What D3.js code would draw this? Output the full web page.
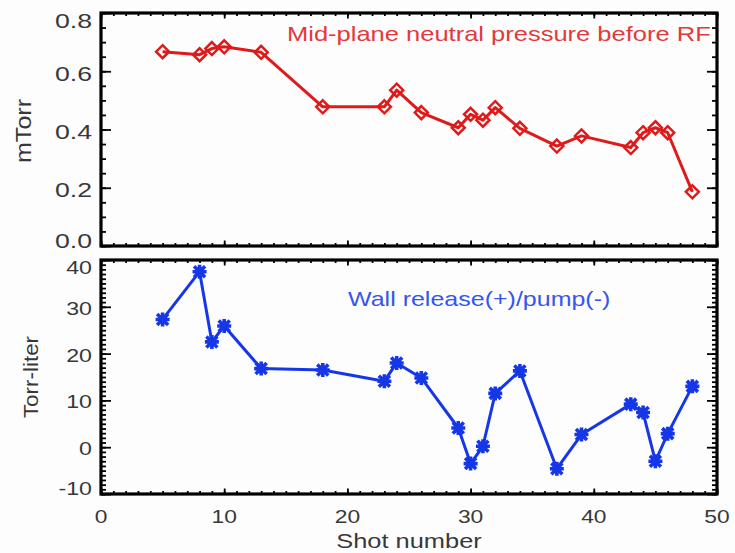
<!DOCTYPE html>
<html>
<head>
<meta charset="utf-8">
<script src="https://cdn.jsdelivr.net/npm/d3@7"></script>
<style>
  html, body { margin: 0; padding: 0; background: #fdfdfd; }
  svg { display: block; }
  text { font-family: "Liberation Sans", Arial, Helvetica, sans-serif; }
</style>
</head>
<body>
<svg id="chart" width="735" height="553"></svg>
<script>
// Shot numbers shared by both panels
const shots = [5, 8, 9, 10, 13, 18, 23, 24, 26, 29, 30, 31, 32, 34, 37, 39, 43, 44, 45, 46, 48];

// Mid-plane neutral pressure before RF (mTorr)
const pressure = [0.667, 0.657, 0.678, 0.684, 0.665, 0.478, 0.478, 0.535, 0.458, 0.406, 0.452,
                  0.432, 0.475, 0.404, 0.343, 0.378, 0.338, 0.389, 0.406, 0.389, 0.186];

// Wall release (+) / pump (-) (Torr-liter)
const wallGas = [27.3, 37.5, 22.5, 25.9, 16.8, 16.5, 14.1, 18.0, 14.8, 4.1, -3.5,
                 0.2, 11.5, 16.3, -4.6, 2.7, 9.2, 7.4, -3.0, 2.9, 13.0];

const xTicks = [0, 10, 20, 30, 40, 50];
const pTicks = [0.0, 0.2, 0.4, 0.6, 0.8];
const wTicks = [-10, 0, 10, 20, 30, 40];

const svg = d3.select("#chart");

const left = 101, right = 717;
const top1 = 13, bot1 = 246;
const top2 = 260, bot2 = 494;

const x = d3.scaleLinear().domain([0, 50]).range([left, right]);
const yP = d3.scaleLinear().domain([0, 0.8]).range([bot1, top1]);
const yW = d3.scaleLinear().domain([-10, 40]).range([bot2, top2]);

const red = "#df1a1a", redText = "#e23a3a";
const blue = "#1637e8", blueText = "#3556ee";

// Text stretched horizontally by sx around its anchor point
function label(g, str, px, py, opts) {
  const o = Object.assign({ size: 20, sx: 1.22, anchor: "middle", fill: "#383838", rotate: 0 }, opts);
  return g.append("text")
    .attr("transform", `translate(${px},${py}) rotate(${o.rotate}) scale(${o.sx},1)`)
    .attr("text-anchor", o.anchor)
    .attr("font-size", o.size)
    .attr("fill", o.fill)
    .text(str);
}

// Inward major/minor ticks on all four sides of a panel
function frameTicks(y, yTop, yBot, yMajor, yMinor, yMajLen, yMinLen) {
  const g = svg.append("g");
  const style = sel => {
    sel.select(".domain").remove();
    sel.selectAll("line").attr("stroke", "#000").attr("stroke-width", 1.8);
  };
  const xMinor = d3.range(0, 50.01, 1);
  // x ticks (bottom and top edges)
  g.append("g").attr("transform", `translate(0,${yBot})`)
    .call(d3.axisBottom(x).tickValues(xMinor).tickSizeInner(-3).tickSizeOuter(0).tickFormat("")).call(style);
  g.append("g").attr("transform", `translate(0,${yBot})`)
    .call(d3.axisBottom(x).tickValues(xTicks).tickSizeInner(-5.5).tickSizeOuter(0).tickFormat("")).call(style);
  g.append("g").attr("transform", `translate(0,${yTop})`)
    .call(d3.axisTop(x).tickValues(xMinor).tickSizeInner(-3).tickSizeOuter(0).tickFormat("")).call(style);
  g.append("g").attr("transform", `translate(0,${yTop})`)
    .call(d3.axisTop(x).tickValues(xTicks).tickSizeInner(-5.5).tickSizeOuter(0).tickFormat("")).call(style);
  // y ticks (left and right edges)
  g.append("g").attr("transform", `translate(${left},0)`)
    .call(d3.axisLeft(y).tickValues(yMinor).tickSizeInner(-yMinLen).tickSizeOuter(0).tickFormat("")).call(style);
  g.append("g").attr("transform", `translate(${left},0)`)
    .call(d3.axisLeft(y).tickValues(yMajor).tickSizeInner(-yMajLen).tickSizeOuter(0).tickFormat("")).call(style);
  g.append("g").attr("transform", `translate(${right},0)`)
    .call(d3.axisRight(y).tickValues(yMinor).tickSizeInner(-yMinLen).tickSizeOuter(0).tickFormat("")).call(style);
  g.append("g").attr("transform", `translate(${right},0)`)
    .call(d3.axisRight(y).tickValues(yMajor).tickSizeInner(-yMajLen).tickSizeOuter(0).tickFormat("")).call(style);
  // frame
  g.append("rect")
    .attr("x", left).attr("y", yTop)
    .attr("width", right - left).attr("height", yBot - yTop)
    .attr("fill", "none").attr("stroke", "#000").attr("stroke-width", 3.2);
}

// ---------- Top panel: neutral pressure ----------
const pMinor = d3.range(0, 0.8001, 0.05);
frameTicks(yP, top1, bot1, pTicks, pMinor, 10, 5);

const fmtP = d3.format(".1f");
const gP = svg.append("g");
pTicks.forEach((v, i) => {
  const nudge = i === 0 ? -6 : (i === pTicks.length - 1 ? 7 : 2);
  label(gP, fmtP(v), 92, yP(v) + nudge + 7.5, { size: 21, sx: 1.27, anchor: "end" });
});

const lineP = d3.line().x((d, i) => x(shots[i])).y(d => yP(d));
gP.append("path").datum(pressure)
  .attr("d", lineP).attr("fill", "none")
  .attr("stroke", red).attr("stroke-width", 3).attr("stroke-linejoin", "round");

const diamond = "M0,-6.5L6.5,0L0,6.5L-6.5,0Z";
gP.selectAll(".diamond").data(pressure).join("path")
  .attr("class", "diamond")
  .attr("transform", (d, i) => `translate(${x(shots[i])},${yP(d)})`)
  .attr("d", diamond)
  .attr("fill", "none").attr("stroke", red).attr("stroke-width", 2.5);

label(gP, "Mid-plane neutral pressure before RF", 287, 41,
  { size: 20.5, sx: 1.245, anchor: "start", fill: redText });
label(gP, "mTorr", 31, 131, { size: 22, sx: 1.14, rotate: -90 });

// ---------- Bottom panel: wall release / pump ----------
const wMinor = d3.range(-10, 40.01, 1);
frameTicks(yW, top2, bot2, wTicks, wMinor, 10, 5);

const gW = svg.append("g");
wTicks.forEach((v, i) => {
  const nudge = i === 0 ? -6 : (i === wTicks.length - 1 ? 7 : 1);
  label(gW, String(v), 92, yW(v) + nudge + 7, { size: 19, sx: 1.22, anchor: "end" });
});

const lineW = d3.line().x((d, i) => x(shots[i])).y(d => yW(d));
gW.append("path").datum(wallGas)
  .attr("d", lineW).attr("fill", "none")
  .attr("stroke", blue).attr("stroke-width", 3).attr("stroke-linejoin", "round");

const asterisk = "M-7,0H7M0,-7V7M-5.5,-5.5L5.5,5.5M-5.5,5.5L5.5,-5.5";
gW.selectAll(".star").data(wallGas).join("path")
  .attr("class", "star")
  .attr("transform", (d, i) => `translate(${x(shots[i])},${yW(d)})`)
  .attr("d", asterisk)
  .attr("fill", "none").attr("stroke", blue).attr("stroke-width", 3.6);

label(gW, "Wall release(+)/pump(-)", 348, 306,
  { size: 20.5, sx: 1.22, anchor: "start", fill: blueText });
label(gW, "Torr-liter", 38, 377, { size: 19.5, sx: 1.15, rotate: -90 });

// x tick labels and title
xTicks.forEach(v => {
  label(svg, String(v), x(v), 523, { size: 19, sx: 1.2 });
});
label(svg, "Shot number", (left + right) / 2, 548, { size: 20.5, sx: 1.24 });
</script>
</body>
</html>
